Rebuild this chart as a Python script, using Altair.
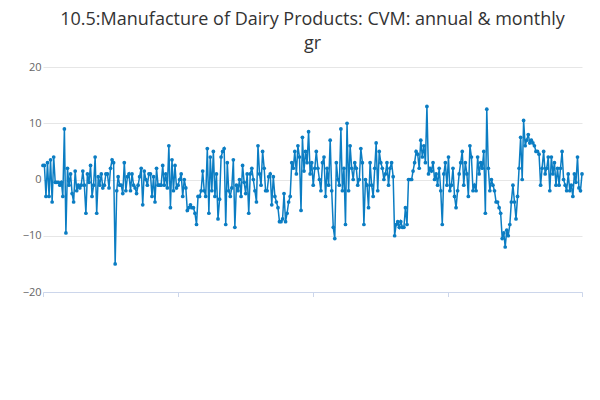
import altair as alt
import pandas as pd

title_lines = ["10.5:Manufacture of Dairy Products: CVM: annual & monthly", "gr"]
series_name = "10.5:Manufacture of Dairy Products: CVM: annual & monthly gr"

# monthly values, 1997 FEB .. 2026 MAY
y1997 = [2.5, 2.5, -3, 3, -3, 3.5, -4, 4, -0.5, -0.5, -0.5]
y1998 = [-1, -0.5, -3, 9, -9.5, 2, -1, 1, -2.5, -4, 1.5, -2]
y1999 = [-1, -1.5, -1, 1.5, -1, -6, 1, -0.5, 2.5, -3, -1, 4]
y2000 = [-6, 0.5, -1, 1, -1.5, -1, 1, 1, -1.5, 2, 3.5, 3]
y2001 = [-15, -2, 0.5, -1, -1, -2.5, 3, -2, 0.5, 1, -2, 1]
y2002 = [-1, -1.5, -2.5, -1, 0.5, 2, -4.5, 1.5, 0, -1, 1, 1]
y2003 = [-3, 0.5, -4, 2, -1, -1, -1, 2.5, -1, 1, -1.5, 6]
y2004 = [-5, 3.5, -2, 2.5, -1.5, -1, 0, 1, -3, 0, -1.5, -5.5]
y2005 = [-5, -4.5, -5, -5, -6, -8, -3, -3, -2, 1.5, -2, -3]
y2006 = [5.5, -6, 4, -2, 5, -3, 1, -7, -3.5, 4, 5, 5.5]
y2007 = [-8, 3, -2, -3, -1.5, 3.5, -8.5, -1, -2, 0, -3, 2.5]
y2008 = [-0.5, -2.5, 1, -6, 1, 2, 0, -2, -4, 6, 1, -1]
y2009 = [5, 2, -2, -2, 0.5, 1, -4.5, 0.5, -3, -4, -5, -7.5]
y2010 = [-7.5, -7, -2.5, -7.5, -6, -4, -3, 3, 2, 5, 1, 6]
y2011 = [4, -5.5, 7.5, 1.5, 5, 3, 8.5, 1, 3, -1, 2, 5]
y2012 = [2, 0, -2, 3, 4, -3, 2, -1, 7, -2, -8.5, -10.5]
y2013 = [3, 0, -1, 9, -2, 2, -8, 10, -2, 6, 2, 0]
y2014 = [3, 2, -1, 0, 5.5, 3, -8, 0, -1, -5, 3, -1]
y2015 = [-3, 2, 6.5, -2, 5, 3, 2, 0, 1, 3, -1, 2]
y2016 = [3, 0.5, -10, -8, -7.5, -8.5, -7.5, -8.5, -8.5, -5, -8, 0]
y2017 = [0, 0, 1.5, 3, 5, 4.5, 2, 7, 4, 6, 3, 13]
y2018 = [1, 2, 1.5, 3, 0, 1, -1, 2, -2, -8, 1, 3]
y2019 = [-1, 4, -2, -1, 2, -3, -5, -2, 1, 3, 5, -1]
y2020 = [3, 1, -3, 6, 4, -2, -1, -2, 4, 1, 3, 2]
y2021 = [5, -6, 12.5, 2, -2, 0, -1, -2, -4, -4, -5, -6]
y2022 = [-10.5, -9.5, -12, -9, -10, -8, -4, -1, -4, -7, -3, 2]
y2023 = [7.5, 0, 10.5, 6, 7, 8, 6.5, 7, 6.5, 6, 5, 5]
y2024 = [4.5, -1, 2, 5, 1, 2, 4, -2, 4, 1, 3, -1]
y2025 = [2, -1, 2, 5, 0, -1, -2, 1, -2, -1, -3, 1]
y2026 = [-0.5, 4, -1.5, -2, 1]

values = (y1997 + y1998 + y1999 + y2000 + y2001 + y2002 + y2003 + y2004 + y2005 + y2006
          + y2007 + y2008 + y2009 + y2010 + y2011 + y2012 + y2013 + y2014 + y2015 + y2016
          + y2017 + y2018 + y2019 + y2020 + y2021 + y2022 + y2023 + y2024 + y2025 + y2026)

tick_dates = ["1997-02-01", "2004-06-01", "2011-10-01", "2019-02-01", "2026-05-01"]

df = pd.DataFrame({
    "date": pd.date_range("1997-02-01", periods=len(values), freq="MS"),
    "value": values,
    "series": series_name,
})

blue = "#0b7dc3"

line = alt.Chart(df).mark_line(
    point=alt.OverlayMarkDef(size=14, filled=True, color=blue), strokeWidth=1.5, color=blue
).encode(
    x=alt.X("date:T", title=None,
            scale=alt.Scale(domain=["1997-02-01", "2026-05-01"]),
            axis=alt.Axis(values=tick_dates, labelAngle=-45, grid=False,
                          labelExpr="upper(timeFormat(datum.value, '%Y %b'))",
                          labelColor="#666", labelFont="Open Sans", labelFontSize=11,
                          domainColor="#ccd6eb", tickColor="#ccd6eb")),
    y=alt.Y("value:Q", title=None,
            scale=alt.Scale(domain=[-20, 20]),
            axis=alt.Axis(values=[-20, -10, 0, 10, 20], domain=False, ticks=False,
                          gridColor="#e6e6e6", labelColor="#666",
                          labelFont="Open Sans", labelFontSize=11)),
    color=alt.Color("series:N", scale=alt.Scale(range=[blue]),
                    legend=alt.Legend(title=None, orient="none", legendX=20, legendY=300,
                                      labelFont="Open Sans",
                                      labelFontSize=12, labelFontWeight="bold",
                                      labelColor="#333", symbolType="stroke",
                                      symbolStrokeWidth=2, labelLimit=500)),
)

source = alt.Chart(df).mark_text(
    text="Source:", align="right", baseline="bottom", font="Open Sans",
    fontSize=12, color="#666"
).encode(x=alt.value(547), y=alt.value(330))

chart = alt.layer(line, source).properties(
    width=539, height=225,
    autosize=alt.AutoSizeParams(type="none"),
    title=alt.Title(title_lines, font="Open Sans", fontSize=18, fontWeight="normal",
                    color="#333", anchor="middle", lineHeight=24, offset=8),
    padding={"left": 35, "top": 59, "right": 10, "bottom": 5},
).configure_view(strokeWidth=0)

chart.save("out.html", embed_options={"renderer": "svg", "actions": False})
